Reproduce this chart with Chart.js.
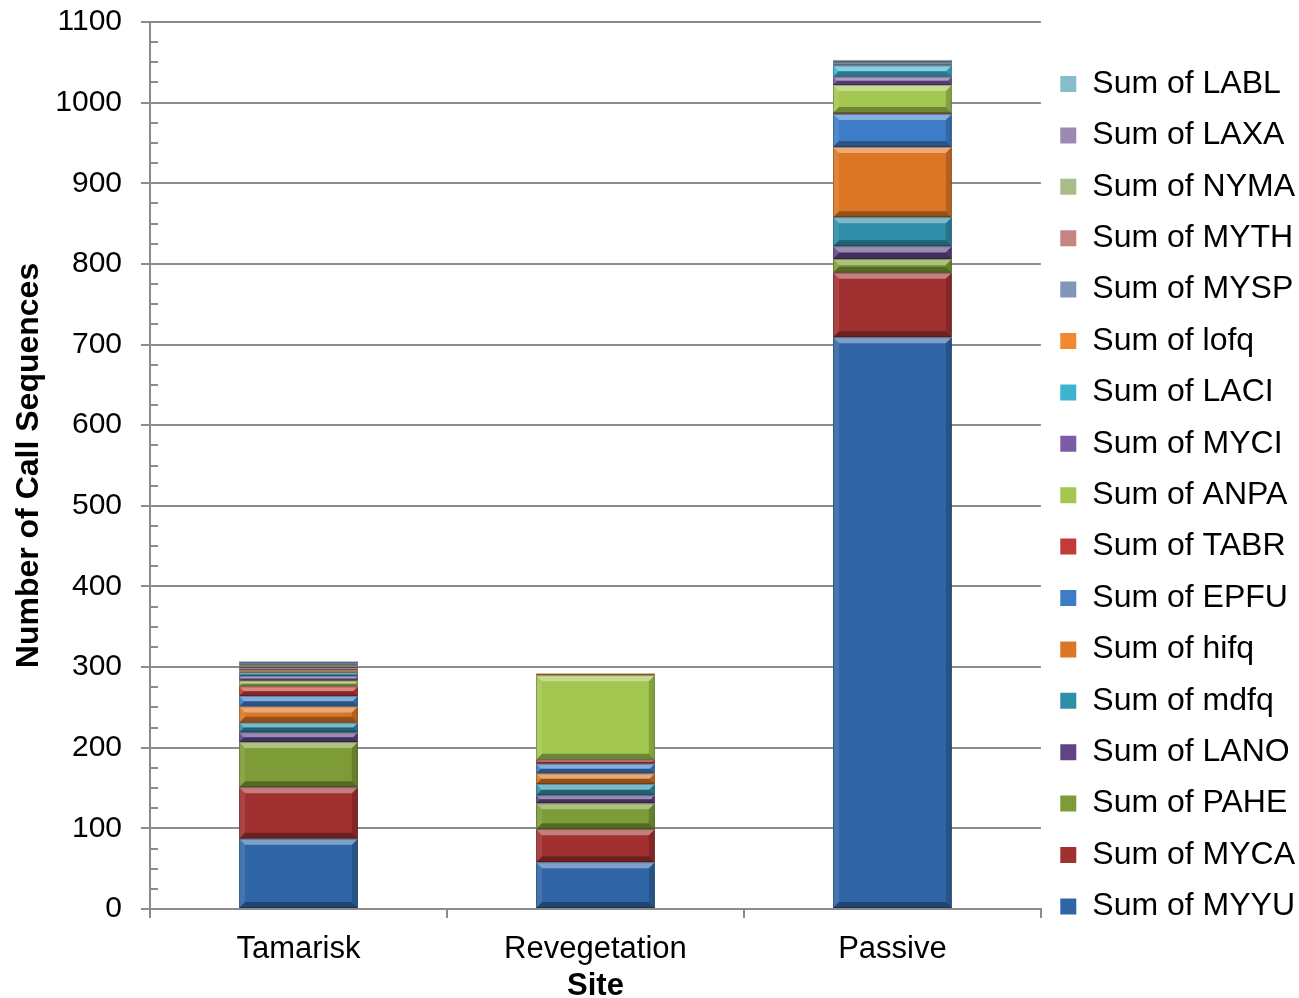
<!DOCTYPE html>
<html>
<head>
<meta charset="utf-8">
<script src="https://cdn.jsdelivr.net/npm/chart.js@4.4.0/dist/chart.umd.min.js"></script>
<style>
  html, body { margin: 0; padding: 0; background: #fff; }
  #wrap { width: 1299px; height: 998px; position: relative; }
</style>
</head>
<body>
<div id="wrap"><canvas id="chart"></canvas></div>
<script>
// categories
const sites = ["Tamarisk", "Revegetation", "Passive"];

// call sequences per site, stacked bottom -> top
const MYYU = [87, 58, 709];
const MYCA = [64, 41, 80];
const PAHE = [56, 32, 17];
const LANO = [12, 10, 16];
const mdfq = [12, 14, 36];
const hifq = [20, 13, 87];
const EPFU = [13, 12, 41];
const TABR = [12, 5, 1];
const ANPA = [7, 105, 35];
const MYCI = [6, 0, 10];
const LACI = [4, 0, 14];
const lofq = [3, 2, 0];
const MYSP = [3, 0, 3];
const MYTH = [2, 0, 0];
const NYMA = [2, 0, 0];
const LAXA = [2, 0, 1];
const LABL = [2, 0, 3];

const series_names = ["MYYU", "MYCA", "PAHE", "LANO", "mdfq", "hifq", "EPFU", "TABR", "ANPA",
                      "MYCI", "LACI", "lofq", "MYSP", "MYTH", "NYMA", "LAXA", "LABL"];
const series_values = [MYYU, MYCA, PAHE, LANO, mdfq, hifq, EPFU, TABR, ANPA,
                       MYCI, LACI, lofq, MYSP, MYTH, NYMA, LAXA, LABL];

// y axis
const y_max = 1100;
const y_step = 100;
const y_minor_step = 25;

// Excel 2007 style palette (darker set, normal set, pale set)
const bar_colours = ["#3066a6", "#a03130", "#7d9b36", "#5f4586", "#2e8ea8", "#dc7625",
                     "#3d7dc8", "#c23b36", "#a3c650", "#7c5ba9", "#3cb3d0", "#f08a2c",
                     "#7f96ba", "#c48585", "#a9bd8a", "#9a89b2", "#87bccb"];
const axis_grey = "#8c8c8c";

Chart.defaults.font.family = "'Liberation Sans', Arial, sans-serif";

// bevel look of the Excel bars
const bevelPlugin = {
  id: "bevel",
  afterDatasetsDraw(chart) {
    const ctx = chart.ctx;
    const poly = (pts, fill) => {
      ctx.fillStyle = fill;
      ctx.beginPath();
      ctx.moveTo(pts[0], pts[1]);
      for (let k = 2; k < pts.length; k += 2) ctx.lineTo(pts[k], pts[k + 1]);
      ctx.closePath();
      ctx.fill();
    };
    ctx.save();
    chart.data.datasets.forEach((ds, i) => {
      const meta = chart.getDatasetMeta(i);
      if (meta.hidden) return;
      meta.data.forEach(bar => {
        const { x, y, base, width } = bar.getProps(["x", "y", "base", "width"], true);
        const l = x - width / 2, r = x + width / 2;
        const t = Math.min(y, base), btm = Math.max(y, base);
        const h = btm - t;
        if (h < 0.5) return;
        const b = Math.min(6, h / 2);
        poly([l, t, r, t, r - b, t + b, l + b, t + b], "rgba(255,255,255,0.38)");
        poly([l, btm, r, btm, r - b, btm - b, l + b, btm - b], "rgba(0,0,0,0.32)");
        poly([l, t, l + b, t + b, l + b, btm - b, l, btm], "rgba(255,255,255,0.10)");
        poly([r, t, r - b, t + b, r - b, btm - b, r, btm], "rgba(0,0,0,0.18)");
        ctx.strokeStyle = "rgba(0,0,0,0.25)";
        ctx.lineWidth = 1;
        ctx.strokeRect(l + 0.5, t + 0.5, width - 1, h - 1);
      });
    });
    ctx.restore();
  }
};

// major ticks (outside) and minor ticks (inside) of the value axis
const axisTicksPlugin = {
  id: "axisTicks",
  afterDraw(chart) {
    const ctx = chart.ctx;
    const ys = chart.scales.y;
    const x0 = chart.chartArea.left;
    ctx.save();
    ctx.strokeStyle = axis_grey;
    ctx.lineWidth = 2;
    for (let v = 0; v <= y_max; v += y_minor_step) {
      const py = Math.round(ys.getPixelForValue(v));
      const major = v % y_step === 0;
      ctx.beginPath();
      ctx.moveTo(major ? x0 - 9 : x0, py);
      ctx.lineTo(x0 + 8, py);
      ctx.stroke();
    }
    ctx.restore();
  }
};

const datasets = series_names.map((name, i) => ({
  label: "Sum of " + name,
  data: series_values[i],
  backgroundColor: bar_colours[i],
  borderColor: "rgba(0,0,0,0.35)",
  borderWidth: 0,
  barPercentage: 0.4,
  categoryPercentage: 1.0
}));

new Chart(document.getElementById("chart"), {
  type: "bar",
  data: { labels: sites, datasets: datasets },
  options: {
    responsive: true,
    maintainAspectRatio: false,
    animation: false,
    layout: { padding: { top: -14.6, right: -6, left: 0, bottom: -7 } },
    plugins: {
      tooltip: { enabled: false },
      legend: {
        position: "right",
        reverse: true,
        labels: {
          boxWidth: 16,
          boxHeight: 16,
          padding: 19.4,
          color: "#000",
          font: { size: 32 }
        }
      }
    },
    scales: {
      x: {
        stacked: true,
        grid: { offset: true, drawOnChartArea: false, tickLength: 9, color: axis_grey, lineWidth: 2 },
        border: { color: axis_grey, width: 2 },
        ticks: { color: "#000", font: { size: 31 }, padding: 13, maxRotation: 0 },
        title: { display: true, text: "Site", color: "#000", font: { size: 31, weight: "bold" }, padding: 0 },
        afterFit(scale) { scale.height = 96; }
      },
      y: {
        stacked: true,
        min: 0,
        max: y_max,
        ticks: {
          stepSize: y_step, color: "#000", font: { size: 30 }, padding: 4,
          callback: (value) => String(value)
        },
        grid: { color: axis_grey, lineWidth: 2, tickLength: 24, tickColor: "rgba(0,0,0,0)" },
        border: { color: axis_grey, width: 2 },
        title: {
          display: true, text: "Number of Call Sequences", color: "#000",
          font: { size: 32, weight: "bold" }, padding: { top: 10, bottom: 0 }
        },
        afterFit(scale) { scale.width = 150; }
      }
    }
  },
  plugins: [bevelPlugin, axisTicksPlugin]
});
</script>
</body>
</html>
